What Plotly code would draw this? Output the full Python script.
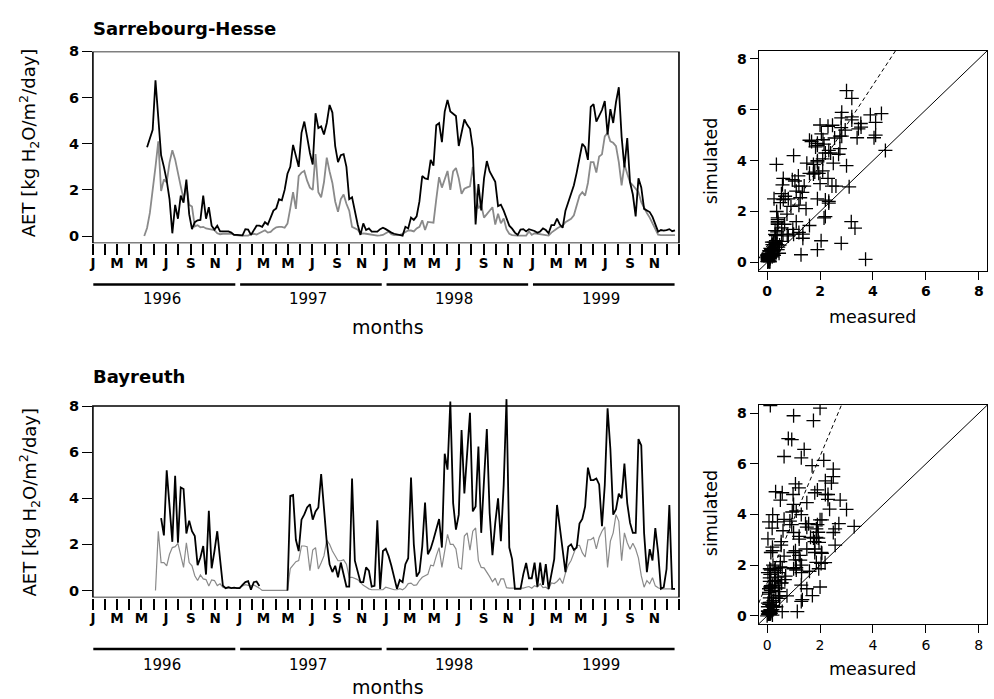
import pandas as pd
import plotly.graph_objects as go

# ---------------- data (weekly AET, kg H2O/m2/day) ----------------
SH_SIM_START = "1996-05-15"
SH_OBS_START = "1996-05-08"
BY_SIM_START = "1996-06-19"
BY_OBS_START = "1996-06-05"

sh_simulated = [
    3.85, 4.2, 4.6, 6.75, 5.0, 3.5, 3.0, 2.4, 1.6, 0.12,
    1.35, 0.75, 1.75, 1.45, 2.45, 0.95, 0.3, 0.6, 0.68, 0.7,
    1.75, 0.75, 1.25, 0.45, 0.28, 0.45, 0.2, 0.2, 0.2, 0.2,
    0.15, 0.05, 0.05, 0.03, 0.03, 0.3, 0.28, 0.05, 0.25, 0.45,
    0.45, 0.4, 0.6, 0.5, 0.8, 1.1, 1.2, 1.6, 1.55, 2.0,
    2.7, 3.0, 3.95, 3.4, 3.0, 4.47, 4.96, 4.3, 3.6, 3.1,
    5.32, 4.68, 4.75, 4.4, 4.9, 5.68, 5.35, 3.9, 3.2, 3.5,
    3.55, 3.0, 1.6, 1.68, 1.05, 0.5, 0.05, 0.55, 0.26, 0.33,
    0.19, 0.19, 0.19, 0.3, 0.36, 0.3, 0.22, 0.15, 0.1, 0.07,
    0.05, 0.02, 0.4, 0.33, 0.8, 0.7, 0.85, 1.5, 2.6, 2.5,
    2.47, 3.3, 3.05, 4.8, 4.89, 4.07, 5.39, 5.9, 5.4, 5.3,
    5.2, 3.9, 4.54, 5.05, 4.82, 4.65, 3.8, 0.5, 2.25, 1.11,
    2.5, 3.25, 2.8, 2.54, 2.35, 1.3, 1.36, 1.1, 0.78, 0.45,
    0.32, 0.15, 0.05, 0.28, 0.3, 0.2, 0.3, 0.26, 0.22, 0.14,
    0.2, 0.33, 0.26, 0.12, 0.47, 0.47, 0.76, 0.5, 0.36, 1.1,
    1.5, 1.9, 2.2, 2.75, 3.47, 4.0, 3.85, 3.3, 5.6, 5.72,
    4.96, 5.25, 5.46, 5.85, 4.4, 5.5, 4.9, 5.8, 6.45, 4.3,
    2.97, 4.25, 2.33, 1.8, 0.85, 2.5, 2.11, 1.18, 1.11, 1.04,
    0.83, 0.5, 0.19, 0.26, 0.24, 0.26, 0.3, 0.21, 0.25,
]

sh_measured = [
    0.0, 0.35, 1.0, 1.9, 3.0, 4.1, 1.95, 2.45, 2.33, 3.18,
    3.72, 3.32, 2.8, 2.15, 1.6, 2.2, 1.35, 1.28, 0.42, 0.47,
    0.38, 0.4, 0.33, 0.3, 0.26, 0.26, 0.12, 0.08, 0.1, 0.1,
    0.08, 0.1, 0.05, 0.02, 0.02, 0.02, 0.02, 0.02, 0.08, 0.1,
    0.07, 0.12, 0.2, 0.25, 0.15, 0.18, 0.3, 0.38, 0.4, 0.4,
    0.36, 0.54, 1.2, 1.9, 1.18, 2.6, 2.75, 2.82, 2.4, 2.1,
    2.0, 3.55, 1.9, 1.68, 2.33, 3.4, 2.8, 2.3, 1.5, 1.05,
    1.6, 1.8, 1.4, 1.1, 0.4, 0.33, 0.28, 0.1, 0.12, 0.1,
    0.08, 0.05, 0.02, 0.02, 0.03, 0.05, 0.12, 0.19, 0.08, 0.04,
    0.04, 0.05, 0.1, 0.18, 0.24, 0.24, 0.2, 0.33, 0.4, 0.68,
    0.26, 0.61, 0.61, 0.58, 1.6, 2.55, 2.1, 2.47, 2.82, 2.0,
    2.8, 2.95, 2.5, 1.83, 2.05, 2.11, 2.15, 3.0, 1.9, 1.2,
    1.35, 0.8, 0.95, 1.1, 1.25, 0.5, 0.97, 0.55, 0.76, 0.3,
    0.1, 0.04, 0.02, 0.02, 0.02, 0.02, 0.02, 0.2, 0.05, 0.12,
    0.1, 0.08, 0.06, 0.04, 0.02, 0.15, 0.25, 0.33, 0.4, 0.45,
    0.6, 0.66, 0.75, 0.9, 1.33, 1.75, 1.9, 1.75, 2.3, 3.2,
    3.2, 2.75, 3.45, 3.54, 4.32, 4.47, 4.1, 4.04, 3.9, 3.2,
    2.2, 3.1, 2.7, 2.33, 2.2, 2.04, 1.9, 1.47, 1.2, 1.0,
    0.8, 0.55, 0.25, 0.06, 0.04, 0.04, 0.06, 0.06, 0.04, 0.04,
]

by_simulated = [
    3.14, 2.39, 5.21, 3.64, 2.11, 4.97, 2.07, 4.47, 4.4, 2.47,
    3.03, 2.57, 2.36, 1.1, 1.43, 1.93, 0.69, 3.46, 0.96, 1.71,
    2.57, 1.36, 0.21, 0.1, 0.14, 0.1, 0.12, 0.1, 0.1, 0.24,
    0.36, 0.4, 0.03, 0.36, 0.39, 0.19, None, None, None, None,
    None, None, None, None, None, 0.0, 4.1, 4.14, 2.2, 1.71,
    3.07, 3.3, 3.6, 3.74, 3.07, 3.43, 3.6, 5.05, 3.5, 2.1,
    1.14, 0.8, 1.07, 0.57, 1.21, 0.64, 0.17, 0.17, 4.86, 1.29,
    0.79, 0.36, 0.36, 1.0, 0.86, 0.17, 0.2, 3.04, 0.07, 1.71,
    1.81, 1.5, 1.07, 0.5, 0.07, 0.45, 0.36, 1.14, 1.4, 4.9,
    2.0, 0.6, 0.8, 1.9, 3.81, 1.57, 1.81, 2.21, 2.64, 3.1,
    1.86, 5.93, 5.24, 8.2, 3.79, 2.64, 3.29, 6.96, 4.21, 5.79,
    7.71, 3.43, 3.64, 6.24, 2.5, 4.79, 7.0, 3.36, 1.53, 2.93,
    4.0, 2.14, 4.57, 8.3, 1.86, 1.36, 0.07, 0.07, 0.07, 0.71,
    1.19, 0.53, 0.53, 1.21, 0.17, 1.21, 0.24, 1.14, 0.07, 0.71,
    1.36, 3.71, 2.79, 1.86, 0.79, 1.9, 2.0, 1.76, 1.86, 2.9,
    3.1, 3.64, 5.33, 4.79, 4.79, 4.86, 4.6, 2.79, 4.57, 7.9,
    6.14, 3.29, 3.53, 4.2, 4.0, 5.5, 3.79, 2.93, 2.5, 2.5,
    6.57, 6.29, 2.5, 0.79, 1.79, 1.3, 2.71, 1.64, 0.07, 0.14,
    0.93, 3.71, 0.07, 0.07,
]

by_measured = [
    0.0, 2.57, 1.21, 1.21, 1.07, 1.57, 1.86, 1.9, 2.04, 1.5,
    1.0, 2.07, 1.21, 1.07, 0.64, 0.43, 0.67, 0.5, 0.47, 0.19,
    0.46, 0.43, 0.21, 0.29, 0.14, 0.1, 0.1, 0.1, 0.1, 0.1,
    0.14, 0.2, 0.25, 0.22, 0.2, 0.24, 0.18, 0.1, 0.0, 0.0,
    0.0, 0.0, 0.0, 0.0, 0.0, 0.0, 0.0, 0.0, 0.95, 1.1,
    1.25, 1.3, 1.93, 1.93, 1.9, 0.86, 1.75, 1.86, 0.93, 1.2,
    1.5, 2.19, 2.0, 1.71, 1.5, 1.29, 1.29, 1.33, 1.14, 0.57,
    0.57, 0.53, 0.47, 0.35, 0.22, 0.15, 0.07, 0.03, 0.03, 0.03,
    0.03, 0.03, 0.14, 0.1, 0.07, 0.03, 0.03, 0.08, 0.03, 0.12,
    0.3, 0.32, 0.22, 0.24, 0.43, 0.57, 0.64, 0.7, 1.1, 1.07,
    1.5, 1.86, 1.0, 1.7, 2.43, 2.0, 2.0, 1.8, 1.0, 0.93,
    2.36, 2.5, 1.75, 2.57, 2.71, 1.29, 1.0, 0.98, 0.8, 0.6,
    0.38, 0.53, 0.21, 0.5, 0.5, 0.12, 0.1, 0.1, 0.1, 0.1,
    0.1, 0.1, 0.14, 0.17, 0.1, 0.21, 0.15, 0.29, 0.12, 0.14,
    0.05, 0.33, 0.3, 0.39, 0.53, 0.3, 0.75, 1.1, 1.3, 1.6,
    1.95, 1.96, 1.64, 1.45, 2.2, 2.2, 2.3, 1.8, 2.3, 2.57,
    2.76, 1.0, 2.14, 2.5, 3.29, 3.0, 1.29, 2.5, 2.07, 1.79,
    2.05, 1.8, 1.4, 0.64, 0.14, 0.43, 0.29, 0.55, 0.2, 0.12,
    0.07, 0.07, 0.07, 0.07, 0.07, 0.07,
]

# regression lines shown dashed in the scatter panels (intercept, slope)
SH_FIT = (0.65, 1.58)
BY_FIT = (1.3, 2.5)

SITES = ["Sarrebourg-Hesse", "Bayreuth"]
YEARS = [1996, 1997, 1998, 1999]
MONTH_LETTERS = ["J", "F", "M", "A", "M", "J", "J", "A", "S", "O", "N", "D"]
AET_TICKS = [0, 2, 4, 6, 8]
SCATTER_RANGE = [-0.32, 8.32]

FONT = "DejaVu Sans"


def weekly(values, start):
    return pd.Series(values, index=pd.date_range(start, periods=len(values), freq="7D"), dtype=float)


sh_sim = weekly(sh_simulated, SH_SIM_START)
sh_obs = weekly(sh_measured, SH_OBS_START)
by_sim = weekly(by_simulated, BY_SIM_START)
by_obs = weekly(by_measured, BY_OBS_START)

sh_pairs = pd.concat({"sim": sh_sim, "obs": sh_obs}, axis=1).dropna()
by_pairs = pd.concat({"sim": by_sim, "obs": by_obs}, axis=1).dropna()

# labelled months (every other month, J M M J S N) ; every month gets a minor tick
label_months = [d for d in pd.date_range("1996-01-01", "1999-12-01", freq="MS") if d.month % 2 == 1]
label_text = [MONTH_LETTERS[d.month - 1] for d in label_months]

fig = go.Figure()

# ---------- panel geometry (paper coords) ----------
TS_X = [0.0898, 0.6818]
SC_X = [0.7623, 0.9932]
TS_Y = {1: [0.6591, 0.9371], 2: [0.1455, 0.4398]}
TS_YR = {1: [-0.31, 8.0], 2: [-0.31, 8.5]}
SC_Y = {1: [0.6195, 0.9381], 2: [0.1073, 0.4245]}

panels = [
    (1, sh_sim, sh_obs, sh_pairs, SH_FIT, 1.8),
    (2, by_sim, by_obs, by_pairs, BY_FIT, 1.2),
]

for row, sim, obs, pairs, fit, gray_w in panels:
    tx = "x" if row == 1 else "x3"
    ty = "y" if row == 1 else "y3"
    sx = "x2" if row == 1 else "x4"
    sy = "y2" if row == 1 else "y4"
    fig.add_trace(go.Scatter(x=obs.index, y=obs.values, mode="lines",
                             line=dict(color="#8a8a8a", width=gray_w), xaxis=tx, yaxis=ty))
    fig.add_trace(go.Scatter(x=sim.index, y=sim.values, mode="lines",
                             line=dict(color="black", width=1.8), xaxis=tx, yaxis=ty))
    # scatter: simulated vs measured
    fig.add_trace(go.Scatter(x=pairs["obs"], y=pairs["sim"], mode="markers",
                             marker=dict(symbol="cross-thin-open", size=10, color="black",
                                         line=dict(color="black", width=1.3)),
                             xaxis=sx, yaxis=sy))
    fig.add_trace(go.Scatter(x=SCATTER_RANGE, y=SCATTER_RANGE, mode="lines",
                             line=dict(color="black", width=1), xaxis=sx, yaxis=sy))
    a, b = fit
    fig.add_trace(go.Scatter(x=SCATTER_RANGE, y=[a + b * v for v in SCATTER_RANGE], mode="lines",
                             line=dict(color="black", width=1, dash="4px,3px"), xaxis=sx, yaxis=sy))

axis_common = dict(showgrid=False, zeroline=False, ticks="outside", tickcolor="black")


def xname(n):
    return "xaxis" if n == 1 else f"xaxis{n}"


def yname(n):
    return "yaxis" if n == 1 else f"yaxis{n}"


layout = {}
for row in (1, 2):
    tn = 1 if row == 1 else 3
    sn = 2 if row == 1 else 4
    layout[xname(tn)] = dict(axis_common, type="date", domain=TS_X, anchor=yname(tn).replace("axis", ""),
                             range=["1996-01-01", "2000-01-01"], tickmode="array",
                             tickvals=label_months, ticktext=label_text, ticklen=11, tickwidth=1.5,
                             showline=False, ticklabelstandoff=-3,
                             minor=dict(ticks="outside", ticklen=11, tickwidth=1.5, tickcolor="black",
                                        dtick="M1", tick0="1996-01-01", showgrid=False),
                             tickfont=dict(family=FONT, size=13.5, color="black", weight="bold"))
    layout[yname(tn)] = dict(axis_common, domain=TS_Y[row], anchor=xname(tn).replace("axis", ""),
                             range=TS_YR[row], tickmode="array", tickvals=AET_TICKS, ticklen=10,
                             tickwidth=1.3, showline=False,
                             tickfont=dict(family=FONT, size=14.5, color="black", weight="bold"))
    layout[xname(sn)] = dict(axis_common, domain=SC_X, anchor=yname(sn).replace("axis", ""),
                             range=SCATTER_RANGE, tickmode="array", tickvals=AET_TICKS, ticklen=8,
                             tickwidth=1.2, showline=True, mirror=True, linecolor="black", linewidth=1.3,
                             tickfont=dict(family=FONT, size=14, color="black",
                                           weight="bold" if row == 1 else "normal"))
    layout[yname(sn)] = dict(axis_common, domain=SC_Y[row], anchor=xname(sn).replace("axis", ""),
                             range=SCATTER_RANGE, tickmode="array", tickvals=AET_TICKS, ticklen=8,
                             tickwidth=1.2, showline=True, mirror=True, linecolor="black", linewidth=1.3,
                             tickfont=dict(family=FONT, size=14, color="black", weight="bold"))

fig.update_layout(**layout)

shapes = []
annotations = []
TITLE_Y = {1: 0.9704, 2: 0.466}
YEARLINE_Y = {1: 0.5994, 2: 0.0711}
YEARLAB_Y = {1: 0.578, 2: 0.0472}
MONTHS_Y = {1: 0.5375, 2: 0.0153}
AET_Y = {1: 0.8054, 2: 0.2847}
SIM_Y = {1: 0.7783, 2: 0.268}
MEAS_Y = {1: 0.5522, 2: 0.0415}


def label(text, x, y, size, xref="paper", angle=0, weight="normal"):
    return dict(text=text, xref=xref, yref="paper", x=x, y=y, xanchor="center", yanchor="middle",
                textangle=angle, showarrow=False,
                font=dict(family=FONT, size=size, color="black", weight=weight))


for row in (1, 2):
    tn = "" if row == 1 else "3"
    xr = "x" + tn
    yr = "y" + tn
    shapes.append(dict(type="rect", xref=f"{xr} domain", yref=yr, x0=0, x1=1,
                       y0=TS_YR[row][0], y1=8, line=dict(color="black", width=1.6)))
    for yv in YEARS:
        x0 = pd.Timestamp(f"{yv}-01-01") + pd.Timedelta(days=1)
        x1 = pd.Timestamp(f"{yv}-12-31") - pd.Timedelta(days=10)
        shapes.append(dict(type="line", xref=xr, yref="paper", x0=x0, x1=x1,
                           y0=YEARLINE_Y[row], y1=YEARLINE_Y[row], line=dict(color="black", width=2.5)))
        annotations.append(label(str(yv), pd.Timestamp(f"{yv}-06-20"), YEARLAB_Y[row], 15, xref=xr))
    annotations.append(dict(text=SITES[row - 1], xref="paper", yref="paper", x=TS_X[0] - 0.002,
                            y=TITLE_Y[row], xanchor="left", yanchor="middle", showarrow=False,
                            font=dict(family=FONT, size=18, color="black", weight="bold")))
    annotations.append(label("months", 0.388, MONTHS_Y[row], 19))
    annotations.append(label("AET [kg H<sub>2</sub>O/m<sup>2</sup>/day]", 0.0252, AET_Y[row], 18, angle=-90))
    annotations.append(label("simulated", 0.7143, SIM_Y[row], 17.5, angle=-90))
    annotations.append(label("measured", 0.8773, MEAS_Y[row], 17.5))

fig.update_layout(width=994, height=699, margin=dict(l=0, r=0, t=0, b=0),
                  paper_bgcolor="white", plot_bgcolor="white", showlegend=False,
                  font=dict(family=FONT, color="black"),
                  shapes=shapes, annotations=annotations)

fig.write_html("out.html")
